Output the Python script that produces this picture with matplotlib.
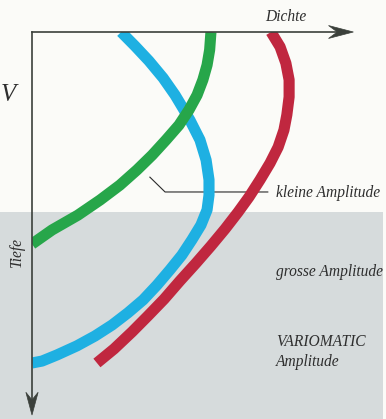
import matplotlib
matplotlib.use("Agg")
import matplotlib.pyplot as plt
from matplotlib.patches import Rectangle, Polygon

W, H = 386, 419
fig = plt.figure(figsize=(W / 100, H / 100), dpi=100)
fig.patch.set_facecolor("#fbfbf8")

# ---- data (Dichte = x, Tiefe = y, both 0..100, depth increasing downward) ----
green_x = [55.4, 55.0, 54.2, 52.9, 51.1, 48.6, 45.5, 41.5, 37.2, 32.5, 27.2,
           21.1, 14.2, 6.2, 0.0]
green_y = [0.0, 4.7, 8.7, 12.6, 16.6, 20.5, 24.5, 28.4, 32.4, 36.3, 40.3,
           44.2, 48.2, 52.1, 55.8]

blue_x = [27.6, 31.9, 36.2, 40.6, 44.3, 46.7, 48.9, 52.0, 53.9, 54.8, 54.8,
          54.2, 52.3, 49.5, 46.4, 42.7, 38.7, 34.4, 29.7, 24.8, 19.5, 13.9,
          7.7, 3.1, 0.0]
blue_y = [0.0, 3.7, 7.6, 12.1, 16.6, 20.0, 23.2, 28.4, 33.7, 38.9, 42.9,
          46.8, 50.8, 54.7, 58.7, 62.6, 66.6, 70.5, 73.9, 77.1, 80.0, 82.6,
          85.0, 86.6, 87.1]

red_x = [74.0, 76.8, 78.6, 79.6, 79.6, 78.9, 78.0, 76.2, 73.7, 70.6, 67.2,
         63.8, 59.8, 55.4, 50.8, 45.8, 40.9, 35.9, 31.0, 25.4, 20.1]
red_y = [0.0, 3.9, 8.2, 12.6, 17.1, 21.8, 25.8, 30.3, 34.5, 38.9, 43.4,
         47.4, 51.8, 56.3, 60.8, 65.5, 70.3, 74.7, 78.9, 83.4, 87.1]

# ---- background grey band ----
bg = fig.add_axes([0, 0, 1, 1], zorder=0)
bg.set_xlim(0, 1)
bg.set_ylim(0, 1)
bg.axis("off")
bg.add_patch(Rectangle((0, 0), 383 / W, 1 - 212 / H, facecolor="#d6dbdc",
                       edgecolor="none"))

# ---- layout (axes spans the drawn coordinate system) ----
x0, y0, x1, y1 = 32, 32, 355, 412
ax = fig.add_axes([x0 / W, 1 - y1 / H, (x1 - x0) / W, (y1 - y0) / H], zorder=1)
ax.set_xlim(0, 100)
ax.set_ylim(100, 0)
ax.axis("off")
ax.patch.set_alpha(0)

lw = 8
kw = dict(lw=lw, solid_capstyle="butt", solid_joinstyle="round")
ax.plot(blue_x, blue_y, color="#1eb0e2", zorder=3, **kw)
ax.plot(red_x, red_y, color="#c0273f", zorder=4, **kw)
ax.plot(green_x, green_y, color="#27a64a", zorder=5, **kw)

# axes with barbed arrow heads
axc = "#3b403b"
ax.plot([0, 96], [0, 0], color=axc, lw=1.2, clip_on=False, zorder=6)
ax.plot([0, 0], [0, 97], color=axc, lw=1.2, clip_on=False, zorder=6)
ax.add_patch(Polygon([[99.5, 0], [91.8, -1.7], [94.5, 0], [91.8, 1.7]], closed=True,
                     facecolor=axc, edgecolor=axc, lw=0.5, clip_on=False, zorder=6))
ax.add_patch(Polygon([[0, 100.8], [-1.9, 94.8], [0, 96.8], [1.9, 94.8]], closed=True,
                     facecolor=axc, edgecolor=axc, lw=0.5, clip_on=False, zorder=6))

# leader line for "kleine Amplitude"
ax.plot([36.5, 41.2, 73.0], [38.2, 42.1, 42.1], color="#2a2a2a", lw=0.8, zorder=2)

tf = dict(family=["Liberation Serif", "DejaVu Serif"], style="italic", color="#2e2e2e")
fs = 11.2
fig.text(265 / W, 1 - 17 / H, "Dichte", fontsize=fs, ha="left", va="center", **tf)
fig.text(17 / W, 1 - 252 / H, "Tiefe", fontsize=fs, ha="center", va="center",
         rotation=90, **tf)
fig.text(276 / W, 1 - 193 / H, "kleine Amplitude", fontsize=fs, ha="left", va="center", **tf)
fig.text(276 / W, 1 - 272 / H, "grosse Amplitude", fontsize=fs, ha="left", va="center", **tf)
fig.text(276 / W, 1 - 342 / H, "VARIOMATIC", fontsize=fs, ha="left", va="center", **tf)
fig.text(276 / W, 1 - 362 / H, "Amplitude", fontsize=fs, ha="left", va="center", **tf)
fig.text(0.5 / W, 1 - 95 / H, "V", fontsize=18, ha="left", va="center", **tf)

fig.savefig("out.png", dpi=100, facecolor=fig.get_facecolor())
